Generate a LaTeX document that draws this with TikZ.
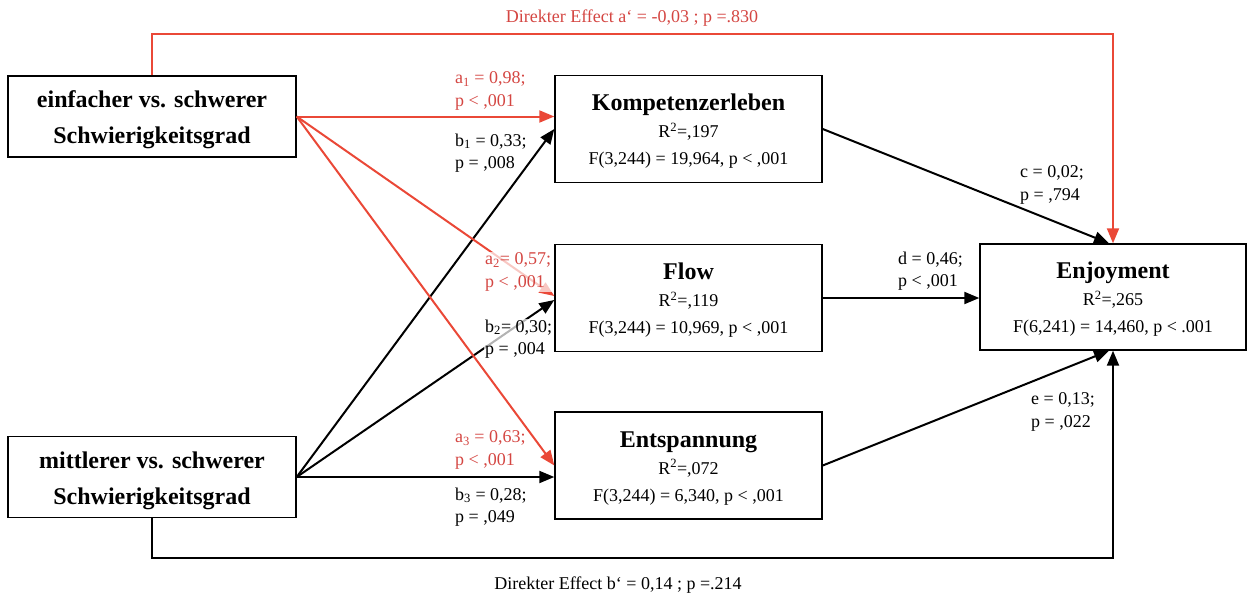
\documentclass[tikz,border=0pt]{standalone}
\usepackage{fontspec}
\setmainfont{Liberation Serif}
\usetikzlibrary{
  arrows.meta   % Triangle 箭头样式
}
\definecolor{pfadrot}{RGB}{234,72,55}
\definecolor{textrot}{RGB}{212,70,66}
\newcommand{\titelfont}{\fontsize{24}{36}\selectfont\bfseries}
\newcommand{\zahlfont}{\fontsize{18}{22.5}\selectfont}
% 首行加高，使框内文字略微下移
\newcommand{\obenstrut}[1]{\rule{0pt}{#1}}

\begin{document}
\begin{tikzpicture}[
  x=1pt, y=-1pt,
  >={Triangle[length=15pt,width=12pt]},
  quelle/.style={draw, line width=1.4pt, minimum width=288pt, minimum height=81pt,
    align=center, inner sep=0pt, font=\titelfont},
  mediator/.style={draw, line width=1.4pt, minimum width=267pt, minimum height=107pt,
    align=center, inner sep=0pt, font=\fontsize{18}{27}\selectfont},
  rotpfeil/.style={->, color=pfadrot, line width=2pt},
  schwarzpfeil/.style={->, line width=2pt},
  koeff/.style={anchor=west, align=left, inner sep=0pt, font=\zahlfont},
  koeffrot/.style={koeff, text=textrot},
  halbweiss/.style={fill=white, fill opacity=0.7, text opacity=1, inner sep=1pt}
]
  \useasboundingbox (0,0) rectangle (1247,597);

  % =============== 自变量（左侧两框） ===============
  \node[quelle] (einfach) at (152,116.5) {\obenstrut{24pt}einfacher vs. schwerer\\Schwierigkeitsgrad};
  \node[quelle] (mittel) at (152,477) {\obenstrut{24pt}mittlerer vs. schwerer\\Schwierigkeitsgrad};

  % =============== 中介变量（中间三框） ===============
  \node[mediator] (komp) at (688.5,129)
    {{\titelfont\obenstrut{21pt}Kompetenzerleben}\\R\textsuperscript{2}=,197\\F(3,244) = 19,964, p < ,001};
  \node[mediator] (flow) at (688.5,298)
    {{\titelfont\obenstrut{21pt}Flow}\\R\textsuperscript{2}=,119\\F(3,244) = 10,969, p < ,001};
  \node[mediator] (entsp) at (688.5,465.5)
    {{\titelfont\obenstrut{21pt}Entspannung}\\R\textsuperscript{2}=,072\\F(3,244) = 6,340, p < ,001};

  % =============== 因变量（右侧） ===============
  \node[mediator, minimum width=266pt, minimum height=106pt] (enjoy) at (1113,297)
    {{\titelfont\obenstrut{21pt}Enjoyment}\\R\textsuperscript{2}=,265\\F(6,241) = 14,460, p < .001};

  % =============== b 路径（黑色） ===============
  \draw[schwarzpfeil] (mittel.east) -- (komp.west);
  \draw[schwarzpfeil] (mittel.east) -- ([yshift=-2pt]flow.west);
  \draw[schwarzpfeil] (mittel.east) -- (mittel.east -| entsp.west);

  % =============== a 路径（红色） ===============
  \draw[rotpfeil] (einfach.east) -- (einfach.east -| komp.west);
  \draw[rotpfeil] (einfach.east) -- ([yshift=2pt]flow.west);
  \draw[rotpfeil] (einfach.east) -- (entsp.west);

  % =============== 中介到因变量 ===============
  \draw[schwarzpfeil] (komp.east) -- ([xshift=-4pt]enjoy.north);
  \draw[schwarzpfeil] (flow.east) -- (flow.east -| enjoy.west);
  \draw[schwarzpfeil] (entsp.east) -- ([xshift=-4pt]enjoy.south);

  % =============== 直接效应（上下两条折线） ===============
  \coordinate (obenrechts) at (1113,34);
  \coordinate (untenrechts) at (1113,558);
  \draw[rotpfeil] (einfach.north) |- (obenrechts) -- (enjoy.north);
  \draw[schwarzpfeil] (mittel.south) |- (untenrechts) -- (enjoy.south);
  \node[text=textrot, font=\zahlfont] (direkta) at (632,18) {Direkter Effect a‘ = -0,03 ; p =.830};
  \node[font=\zahlfont] (direktb) at (618,585) {Direkter Effect b‘ = 0,14 ; p =.214};

  % =============== 路径系数 ===============
  \node[koeffrot] (koeffa1) at (455,91) {a\textsubscript{1} = 0,98;\\p < ,001};
  \node[koeff] (koeffb1) at (455,153) {b\textsubscript{1} = 0,33;\\p = ,008};
  \node[koeffrot, halbweiss] (koeffa2) at (484,272) {a\textsubscript{2}= 0,57;\\p < ,001};
  \node[koeff, halbweiss] (koeffb2) at (484,339) {b\textsubscript{2}= 0,30;\\p = ,004};
  \node[koeffrot] (koeffa3) at (455,450) {a\textsubscript{3} = 0,63;\\p < ,001};
  \node[koeff] (koeffb3) at (455,507) {b\textsubscript{3} = 0,28;\\p = ,049};
  \node[koeff] (koeffc) at (1020,185) {c = 0,02;\\p = ,794};
  \node[koeff] (koeffd) at (898,271) {d = 0,46;\\p < ,001};
  \node[koeff] (koeffe) at (1031,412) {e = 0,13;\\p = ,022};

\end{tikzpicture}
\end{document}
